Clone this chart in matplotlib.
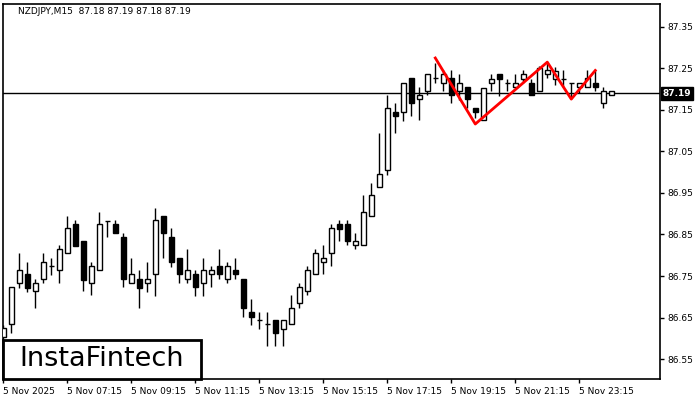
import matplotlib
matplotlib.use("Agg")
import matplotlib.pyplot as plt
from matplotlib.patches import Rectangle
import matplotlib.transforms as mtransforms

# NZDJPY M15 candles
opens = [86.603, 86.634, 86.733, 86.755, 86.714, 86.743, 86.774, 86.764, 86.805, 86.875,
         86.834, 86.733, 86.764, 86.882, 86.875, 86.844, 86.733, 86.743, 86.733, 86.755,
         86.894, 86.844, 86.793, 86.743, 86.755, 86.733, 86.755, 86.774, 86.743, 86.764,
         86.743, 86.663, 86.644, 86.634, 86.644, 86.622, 86.634, 86.685, 86.714, 86.755,
         86.784, 86.805, 86.875, 86.875, 86.825, 86.825, 86.894, 86.964, 87.005, 87.145,
         87.145, 87.227, 87.176, 87.196, 87.227, 87.215, 87.227, 87.196, 87.205, 87.155,
         87.126, 87.215, 87.237, 87.215, 87.205, 87.225, 87.215, 87.196, 87.237, 87.225,
         87.225, 87.215, 87.205, 87.205, 87.215, 87.167, 87.186]
highs = [86.632, 86.723, 86.805, 86.784, 86.743, 86.805, 86.793, 86.825, 86.894, 86.885,
         86.834, 86.784, 86.904, 86.882, 86.885, 86.853, 86.793, 86.764, 86.784, 86.914,
         86.894, 86.866, 86.793, 86.815, 86.764, 86.793, 86.774, 86.815, 86.784, 86.793,
         86.743, 86.694, 86.663, 86.663, 86.644, 86.644, 86.704, 86.733, 86.774, 86.815,
         86.825, 86.875, 86.885, 86.885, 86.853, 86.945, 86.974, 87.095, 87.186, 87.167,
         87.215, 87.227, 87.205, 87.237, 87.263, 87.246, 87.246, 87.237, 87.205, 87.155,
         87.203, 87.237, 87.237, 87.225, 87.237, 87.246, 87.225, 87.256, 87.263, 87.254,
         87.246, 87.215, 87.215, 87.246, 87.246, 87.205, 87.196]
lows = [86.596, 86.613, 86.721, 86.711, 86.673, 86.733, 86.752, 86.733, 86.805, 86.822,
        86.714, 86.704, 86.764, 86.844, 86.853, 86.723, 86.733, 86.673, 86.711, 86.702,
        86.793, 86.771, 86.733, 86.733, 86.702, 86.702, 86.723, 86.743, 86.733, 86.743,
        86.651, 86.632, 86.622, 86.581, 86.581, 86.581, 86.634, 86.673, 86.704, 86.755,
        86.755, 86.774, 86.834, 86.825, 86.815, 86.825, 86.894, 86.964, 86.993, 87.095,
        87.123, 87.135, 87.126, 87.186, 87.215, 87.196, 87.167, 87.174, 87.155, 87.131,
        87.126, 87.196, 87.184, 87.196, 87.205, 87.215, 87.186, 87.196, 87.227, 87.210,
        87.205, 87.176, 87.191, 87.205, 87.196, 87.155, 87.186]
closes = [86.625, 86.723, 86.764, 86.721, 86.733, 86.784, 86.774, 86.815, 86.866, 86.822,
          86.740, 86.774, 86.875, 86.882, 86.853, 86.743, 86.755, 86.721, 86.743, 86.885,
          86.853, 86.784, 86.755, 86.764, 86.723, 86.764, 86.764, 86.755, 86.774, 86.755,
          86.673, 86.651, 86.644, 86.634, 86.613, 86.644, 86.673, 86.723, 86.764, 86.805,
          86.793, 86.866, 86.863, 86.834, 86.834, 86.904, 86.945, 86.996, 87.155, 87.135,
          87.215, 87.167, 87.186, 87.237, 87.227, 87.237, 87.186, 87.215, 87.176, 87.145,
          87.203, 87.225, 87.225, 87.215, 87.215, 87.237, 87.186, 87.251, 87.246, 87.244,
          87.225, 87.215, 87.215, 87.227, 87.205, 87.196, 87.196]

tick_bars = [0, 8, 16, 24, 32, 40, 48, 56, 64, 72]
tick_labels = ["5 Nov 2025", "5 Nov 07:15", "5 Nov 09:15", "5 Nov 11:15", "5 Nov 13:15",
               "5 Nov 15:15", "5 Nov 17:15", "5 Nov 19:15", "5 Nov 21:15", "5 Nov 23:15"]
price_ticks = [86.55, 86.65, 86.75, 86.85, 86.95, 87.05, 87.15, 87.25, 87.35]

# triple top pattern
pattern_bars = [54, 59, 68, 71, 74]
pattern_prices = [87.275, 87.116, 87.265, 87.176, 87.245]

last_price = 87.19
title = "NZDJPY,M15  87.18 87.19 87.18 87.19"

fig = plt.figure(figsize=(7, 4), dpi=100)
ax = fig.add_axes([3 / 700, 21 / 400, 657 / 700, 375 / 400])

idx = list(range(len(opens)))
ax.vlines(idx, lows, highs, color="black", linewidth=1, zorder=2)
for i in idx:
    o, c = opens[i], closes[i]
    up = c >= o
    ax.add_patch(Rectangle((i - 0.28, min(o, c)), 0.56, abs(c - o),
                           facecolor="white" if up else "black",
                           edgecolor="black", linewidth=1, zorder=3))

ax.axhline(last_price, color="black", linewidth=1, zorder=1)
ax.plot(pattern_bars, pattern_prices, color="red", linewidth=2, zorder=4)

ax.set_xlim(-0.04, 82.09)
ax.set_ylim(86.502, 87.405)

ax.yaxis.tick_right()
ax.set_yticks(price_ticks)
ax.set_yticklabels([f"{p:.2f}" for p in price_ticks])
ax.set_xticks(tick_bars)
ax.set_xticklabels(tick_labels)
for lbl in ax.get_xticklabels():
    lbl.set_ha("left")
ax.tick_params(axis="both", direction="out", length=3, width=1, labelsize=6.5, pad=2)
ax.tick_params(axis="x", pad=3)
for s in ax.spines.values():
    s.set_linewidth(1.2)

trans = mtransforms.blended_transform_factory(ax.transAxes, ax.transData)
ax.text(1.004, last_price, f"{last_price:.2f}", transform=trans, fontsize=6.5,
        color="white", va="center", ha="left", fontweight="bold",
        bbox=dict(facecolor="black", edgecolor="black", pad=1.5))

fig.text(18 / 700, 1 - 12 / 400, title, fontsize=6.5, va="center", ha="left")

# logo box
fig.patches.append(Rectangle((3 / 700, 21 / 400), 198 / 700, 39 / 400,
                             transform=fig.transFigure, facecolor="white",
                             edgecolor="black", linewidth=2, zorder=5))
fig.text(102 / 700, 1 - 359 / 400, "InstaFintech", fontsize=19.5, va="center",
         ha="center", zorder=6)

fig.savefig("out.png", dpi=100)
